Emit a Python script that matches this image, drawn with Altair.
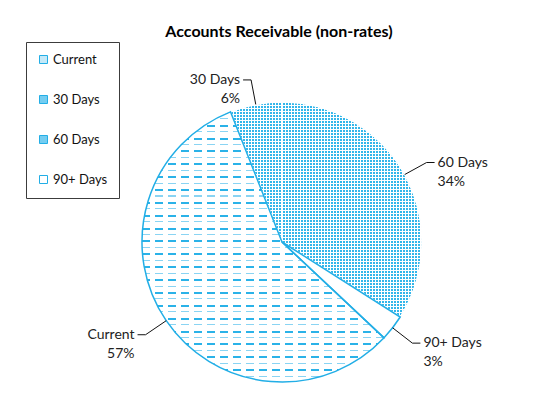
import math
import altair as alt
import pandas as pd

# ---- data ----
categories = ["Current", "30 Days", "60 Days", "90+ Days"]
values = [57, 6, 34, 3]

df = pd.DataFrame({"cat": categories, "value": values, "idx": list(range(len(categories)))})

# ---- style ----
BLUE = "#22aee6"
DOT_BLUE = "#33b6ea"
FONT = "Lato"
R = 140                      # pie radius (px)
FIRST_ANGLE = math.radians(133.2)   # Excel "angle of first slice"
W, H = 528, 302
CLEAR = "rgba(255,255,255,0)"

legend_colors = ["#c4e9f8", "#74cdf1", "#74cdf1", "#ffffff"]


def hstripes(rows):
    """horizontal dashed-row texture (thick / thin alternating)"""
    stops = [alt.GradientStop(offset=0, color="white")]
    for i in range(rows):
        y0 = i / rows
        if i % 2 == 0:
            col, t = "#2ab2e8", 2.0 / 270
        else:
            col, t = "#8ad4f3", 1.1 / 270
        y1 = min(1, y0 + t)
        stops += [alt.GradientStop(offset=y0, color="white"),
                  alt.GradientStop(offset=y0, color=col),
                  alt.GradientStop(offset=y1, color=col),
                  alt.GradientStop(offset=y1, color="white")]
    stops.append(alt.GradientStop(offset=1, color="white"))
    return alt.LinearGradient(gradient="linear", stops=stops, x1=0, x2=0, y1=0, y2=1)


def lines(size_px, period_px, line_px, start_px, vertical):
    """white lines on a clear background, across a box of size_px"""
    stops = [alt.GradientStop(offset=0, color=CLEAR)]
    p = start_px
    while p < size_px:
        a = p / size_px
        b = min(1, (p + line_px) / size_px)
        stops += [alt.GradientStop(offset=a, color=CLEAR),
                  alt.GradientStop(offset=a, color="white"),
                  alt.GradientStop(offset=b, color="white"),
                  alt.GradientStop(offset=b, color=CLEAR)]
        p += period_px
    stops.append(alt.GradientStop(offset=1, color=CLEAR))
    if vertical:
        return alt.LinearGradient(gradient="linear", stops=stops, x1=0, x2=1, y1=0, y2=0)
    return alt.LinearGradient(gradient="linear", stops=stops, x1=0, x2=0, y1=0, y2=1)


base = (
    alt.Chart(df)
    .transform_window(cum="sum(value)", sort=[alt.SortField("idx")], frame=[None, 0])
    .transform_joinaggregate(total="sum(value)")
    .transform_calculate(
        a1=f"{FIRST_ANGLE} + 2*PI*datum.cum/datum.total",
        a0=f"{FIRST_ANGLE} + 2*PI*(datum.cum - datum.value)/datum.total",
    )
    .transform_calculate(
        mid="(datum.a0 + datum.a1)/2",
        pct="round(100*datum.value/datum.total)",
    )
    .transform_calculate(
        side="sin(datum.mid) >= 0 ? 1 : -1",
        ex=f"width/2 + {R}*sin(datum.mid)",
        ey=f"height/2 - {R}*cos(datum.mid)",
        bx=f"width/2 + {R + 25}*sin(datum.mid)",
        by=f"height/2 - {R + 25}*cos(datum.mid)",
        label="datum.cat + '\\n' + datum.pct + '%'",
    )
    .transform_calculate(
        hx="datum.bx + 8*datum.side",
        tx="datum.bx + 11*datum.side",
    )
)

theta = alt.Theta("a0:Q", scale=None)
theta2 = alt.Theta2("a1:Q")

slice_fill = alt.Color(
    "cat:N",
    scale=alt.Scale(domain=categories, range=["#ffffff", DOT_BLUE, DOT_BLUE, "#ffffff"]),
    legend=None,
)

arcs = base.mark_arc(outerRadius=R, stroke="white", strokeWidth=1).encode(
    theta=theta, theta2=theta2, fill=slice_fill,
)

# legend carrier (invisible in the pie)
legend_layer = base.mark_arc(outerRadius=R, opacity=0).encode(
    theta=theta, theta2=theta2,
    color=alt.Color(
        "cat:N",
        scale=alt.Scale(domain=categories, range=legend_colors),
        legend=alt.Legend(
            orient="none", legendX=8, legendY=-49, title=None,
            symbolType="square", symbolSize=64, symbolStrokeColor=BLUE,
            symbolStrokeWidth=1, symbolOpacity=1, labelFont=FONT, labelFontSize=13,
            labelColor="#111", rowPadding=26, padding=11, labelOffset=3,
            strokeColor="#3c3c3c", fillColor="white",
        ),
    ),
)

cur = base.transform_filter(alt.datum.cat == "Current")
cur_rows = cur.mark_arc(outerRadius=R, fill=hstripes(42)).encode(theta=theta, theta2=theta2)
cur_gaps = cur.mark_arc(outerRadius=R, fill=lines(242, 13, 5, 8, True)).encode(theta=theta, theta2=theta2)

# dotted texture of the 30 / 60 day slices
d60 = base.transform_filter(alt.datum.cat == "60 Days")
d30 = base.transform_filter(alt.datum.cat == "30 Days")
tex = [
    d60.mark_arc(outerRadius=R, fill=lines(215, 3, 0.9, 0, False)).encode(theta=theta, theta2=theta2),
    d60.mark_arc(outerRadius=R, fill=lines(140, 3, 0.9, 0, True)).encode(theta=theta, theta2=theta2),
    d30.mark_arc(outerRadius=R, fill=lines(140, 3, 0.9, 0, False)).encode(theta=theta, theta2=theta2),
    d30.mark_arc(outerRadius=R, fill=lines(52, 3, 0.9, 0, True)).encode(theta=theta, theta2=theta2),
]
sep = base.transform_filter(
    alt.FieldOneOfPredicate(field="cat", oneOf=["30 Days", "60 Days"])
).mark_arc(outerRadius=R, fillOpacity=0, stroke="white", strokeWidth=1.2).encode(theta=theta, theta2=theta2)

outline = base.transform_filter(
    alt.FieldOneOfPredicate(field="cat", oneOf=["Current", "90+ Days"])
).mark_arc(outerRadius=R, fillOpacity=0, stroke=BLUE, strokeWidth=1.5).encode(theta=theta, theta2=theta2)

xs = dict(scale=None, axis=None)
lead1 = base.mark_rule(color="#111", strokeWidth=1).encode(
    x=alt.X("ex:Q", **xs), y=alt.Y("ey:Q", **xs), x2="bx:Q", y2="by:Q")
lead2 = base.mark_rule(color="#111", strokeWidth=1).encode(
    x=alt.X("bx:Q", **xs), y=alt.Y("by:Q", **xs), x2="hx:Q")

txt_kw = dict(baseline="middle", lineBreak="\n", font=FONT, fontSize=14, color="#222", lineHeight=19)
lab_r = base.transform_filter("datum.side > 0").mark_text(align="left", **txt_kw).encode(
    x=alt.X("tx:Q", **xs), y=alt.Y("by:Q", **xs), text="label:N")
lab_l = base.transform_filter("datum.side < 0").mark_text(align="right", **txt_kw).encode(
    x=alt.X("tx:Q", **xs), y=alt.Y("by:Q", **xs), text="label:N")

chart = (
    alt.layer(legend_layer, arcs, *tex, sep, cur_rows, cur_gaps, outline, lead1, lead2, lab_r, lab_l)
    .properties(
        width=W, height=H,
        padding={"left": 10, "top": 83, "right": 0, "bottom": 0},
        autosize=alt.AutoSizeParams(type="none"),
        background="white",
        title=alt.TitleParams(
            "Accounts Receivable (non-rates)", font=FONT, fontSize=16,
            fontWeight="bold", color="#000", anchor="middle", offset=2, dx=-3,
        ),
    )
    .configure_view(stroke=None)
)

chart.save("out.html", embed_options={"renderer": "svg", "actions": False})
